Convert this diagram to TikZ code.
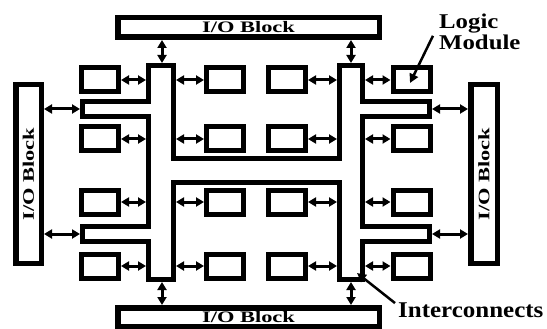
\documentclass[tikz,border=0pt]{standalone}
\usepackage{fontspec}
\setmainfont{Liberation Serif}[BoldFont={Liberation Serif Bold}]
\usetikzlibrary{arrows.meta}
\begin{document}
\begin{tikzpicture}[x=1pt,y=-1pt,
  iob/.style={draw, line width=5.5pt, fill=white, inner sep=0pt,
    font=\bfseries\fontsize{16}{16}\selectfont},
  lmod/.style={draw, line width=5pt, minimum width=37pt, minimum height=24pt, inner sep=0pt},
  bi/.style={line width=3pt, {Triangle[length=8pt,width=9pt]}-{Triangle[length=8pt,width=9pt]}},
  lbl/.style={line width=2.5pt, -{Triangle[length=9pt,width=9pt]}},
  txt/.style={inner sep=0pt, font=\bfseries}]
\useasboundingbox (0,0) rectangle (547,329);

% I/O blocks
\node[iob, minimum width=261.5pt, minimum height=19.5pt] (iot) at (248.5,27.5) {\scalebox{1.4}[1]{I/O Block}};
\node[iob, minimum width=261.5pt, minimum height=18.5pt] (iob) at (248.5,317) {\scalebox{1.4}[1]{I/O Block}};
\node[iob, rotate=90, minimum width=178.5pt, minimum height=25.5pt] (iol) at (28.5,174) {\scalebox{1.4}[1]{I/O Block}};
\node[iob, rotate=90, minimum width=178.5pt, minimum height=26.5pt] (ior) at (484,174) {\scalebox{1.4}[1]{I/O Block}};

% interconnect network
\draw[line width=5pt, fill=white, line join=miter]
  (148.5,65.5) -- (173.5,65.5) -- (173.5,158.5) -- (339.5,158.5) -- (339.5,65.5)
  -- (362.5,65.5) -- (362.5,101.5) -- (429.5,101.5) -- (429.5,116.5) -- (362.5,116.5)
  -- (362.5,226.5) -- (429.5,226.5) -- (429.5,241.5) -- (362.5,241.5) -- (362.5,279.5)
  -- (339.5,279.5) -- (339.5,182.5) -- (173.5,182.5) -- (173.5,279.5) -- (148.5,279.5)
  -- (148.5,241.5) -- (82.5,241.5) -- (82.5,226.5) -- (148.5,226.5) -- (148.5,116.5)
  -- (82.5,116.5) -- (82.5,101.5) -- (148.5,101.5) -- cycle;

% logic modules
\foreach \r/\y in {1/80,2/139,3/202,4/266}{
  \node[lmod] (m\r1) at (100,\y) {};
  \node[lmod] (m\r2) at (225,\y) {};
  \node[lmod] (m\r3) at (287,\y) {};
  \node[lmod] (m\r4) at (411.5,\y) {};
  \coordinate (a\r1) at (146,\y);
  \coordinate (a\r2) at (176,\y);
  \coordinate (a\r3) at (337,\y);
  \coordinate (a\r4) at (365,\y);
  \draw[bi] (m\r1.east) -- (a\r1);
  \draw[bi] (a\r2) -- (m\r2.west);
  \draw[bi] (m\r3.east) -- (a\r3);
  \draw[bi] (a\r4) -- (m\r4.west);
}

% side branches to I/O
\coordinate (bl1) at (80,109);
\coordinate (bl2) at (80,234);
\coordinate (br1) at (432,109);
\coordinate (br2) at (432,234);
\draw[bi] (iol.south |- bl1) -- (bl1);
\draw[bi] (iol.south |- bl2) -- (bl2);
\draw[bi] (br1) -- (ior.north |- br1);
\draw[bi] (br2) -- (ior.north |- br2);

% vertical connections
\coordinate (tl) at (162,63);
\coordinate (tr) at (351,63);
\coordinate (ul) at (162,282);
\coordinate (ur) at (351,282);
\draw[bi] (iot.south -| tl) -- (tl);
\draw[bi] (iot.south -| tr) -- (tr);
\draw[bi] (ul) -- (iob.north -| ul);
\draw[bi] (ur) -- (iob.north -| ur);

% labels
\node[txt, anchor=north west, font=\bfseries\fontsize{21}{20}\selectfont] (lm) at (439,14)
  {\begin{tabular}{@{}l@{}}\scalebox{1.18}[1]{Logic}\\\scalebox{1.18}[1]{Module}\end{tabular}};
\coordinate (lmtip) at (410,83);
\draw[lbl] ([xshift=-6pt,yshift=-1pt]lm.west) -- (lmtip);

\node[txt, anchor=base west, font=\bfseries\fontsize{22.5}{22.5}\selectfont] (ic) at (398,317)
  {\scalebox{1.11}[1]{Interconnects}};
\coordinate (ictip) at (357,273);
\draw[lbl] ([xshift=-3pt,yshift=-1pt]ic.north west) -- (ictip);
\end{tikzpicture}
\end{document}
